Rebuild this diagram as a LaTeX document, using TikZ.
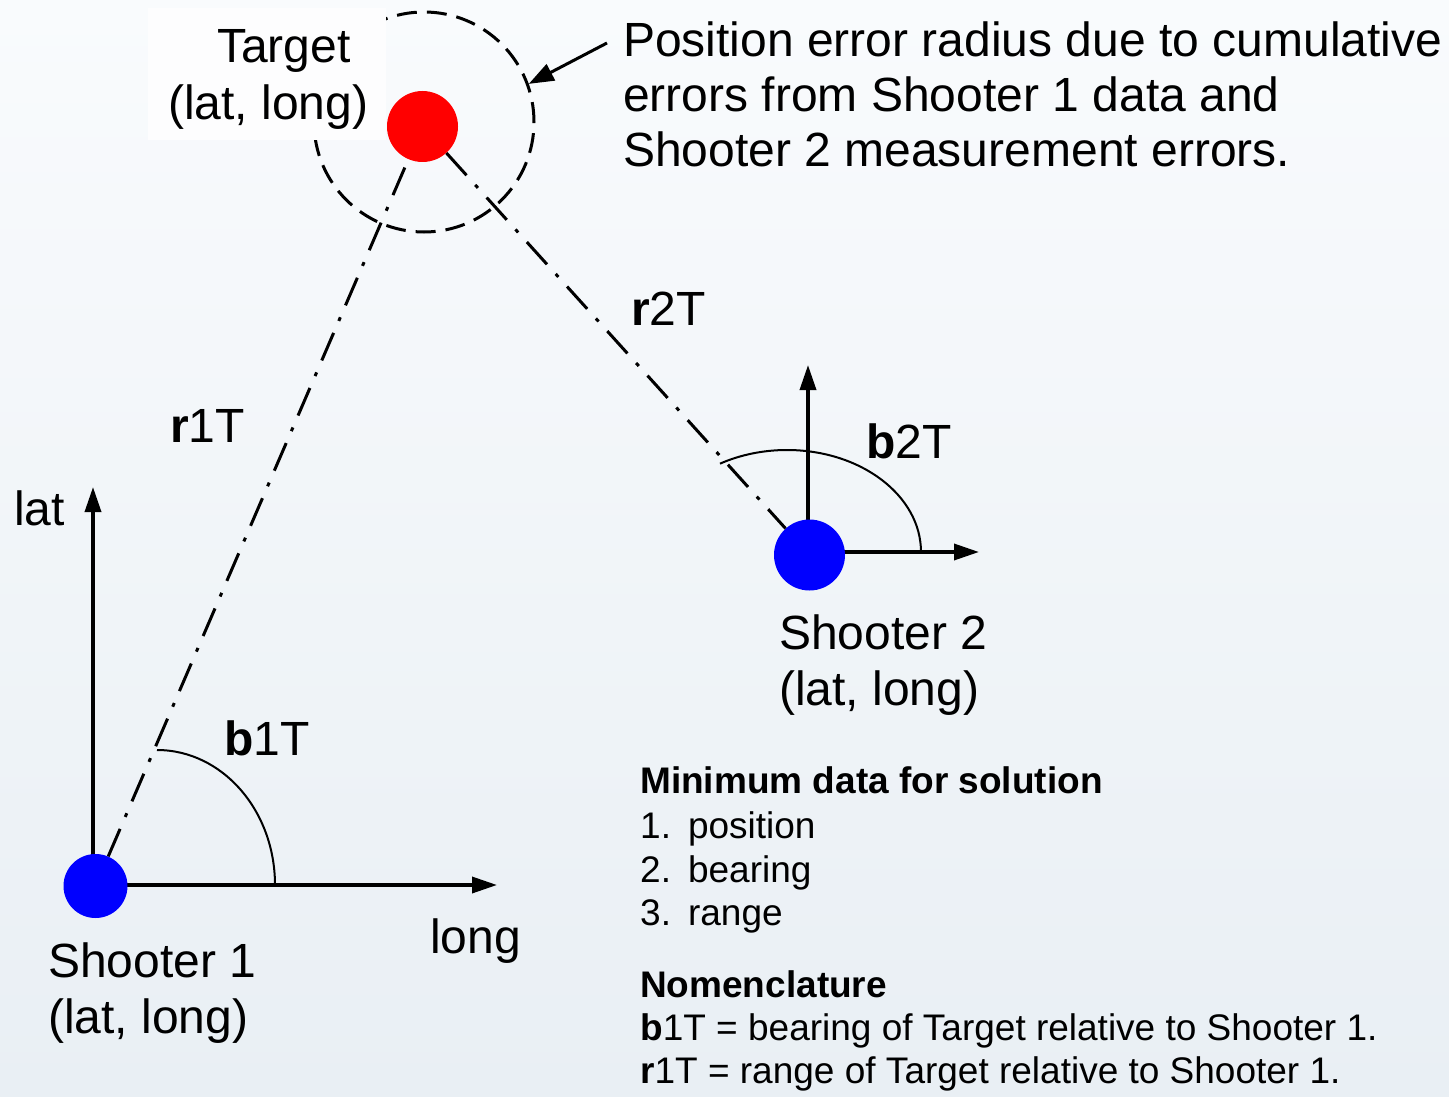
\documentclass[tikz,border=0pt]{standalone}
\usepackage{fontspec}
\setmainfont{Liberation Sans}
\usetikzlibrary{arrows.meta}
\definecolor{bgtop}{RGB}{249,251,253}
\definecolor{bgbot}{RGB}{233,239,244}
\definecolor{dotblue}{RGB}{0,0,255}
\definecolor{dotred}{RGB}{255,0,0}
\newcommand\bigf{\fontsize{48}{56}\selectfont}
\newcommand\smallf{\fontsize{37}{44}\selectfont}
\begin{document}
\begin{tikzpicture}[x=1pt,y=-1pt,
  dot/.style={circle,inner sep=0pt,minimum size=#1},
  txt/.style={anchor=base west,inner sep=0pt,font=\bigf},
  sm/.style={anchor=base west,inner sep=0pt,font=\smallf},
  axis/.style={line width=3.5pt,-{Triangle[length=25pt,width=16pt]}},
  pointer/.style={line width=3pt,-{Triangle[length=25pt,width=18pt]}},
  sight/.style={line width=3pt,dash pattern=on 30pt off 13pt on 4pt off 13pt},
  anglearc/.style={line width=2pt},
  errcircle/.style={circle,draw,line width=3pt,dash pattern=on 20pt off 10pt,minimum size=220pt,inner sep=0pt}
]
\useasboundingbox (0,0) rectangle (1449,1097);
\shade[top color=bgtop,bottom color=bgbot] (0,0) rectangle (1449,1097);

% error circle and target label box
\node[errcircle] (err) at (424,122) {};
\fill[white!60!bgtop] (148,8) rectangle (386,140);
\node[txt] (tgt1) at (217,63) {Target};
\node[txt] (tgt2) at (168,120) {(lat, long)};

% note
\node[txt] (n1) at (623,57) {Position error radius due to cumulative};
\node[txt] (n2) at (623,112) {errors from Shooter 1 data and};
\node[txt] (n3) at (623,167) {Shooter 2 measurement errors.};
\coordinate (arrowstart) at (607,43);
\draw[pointer] (arrowstart) -- (err.20);

% shooter 1 axes
\coordinate (o1) at (93,885);
\coordinate (lat1) at (93,487);
\coordinate (long1) at (497,885);
\draw[axis] (o1) -- (lat1);
\draw[axis] (o1) -- (long1);
\draw[anglearc] (275,885) arc[start angle=0,end angle=90,x radius=118pt,y radius=135pt];

% shooter 2 axes
\coordinate (o2) at (808,552);
\coordinate (lat2) at (808,365);
\coordinate (long2) at (979,552);
\draw[axis] (o2) -- (lat2);
\draw[axis] (o2) -- (long2);
\draw[anglearc] (921,552) arc[start angle=0,end angle=120,x radius=134pt,y radius=102pt];

% dots
\node[dot=64pt,fill=dotblue] (s1) at (95.5,886) {};
\node[dot=71pt,fill=dotblue] (s2) at (809.5,555) {};
\node[dot=71pt,fill=dotred] (tg) at (422.5,126.5) {};

% sight lines
\draw[sight] (s1) -- (tg);
\draw[sight] (tg) -- (s2);

% labels
\node[txt] (latlab) at (14,525) {lat};
\node[txt] (longlab) at (430,953) {long};
\node[txt] (r1lab) at (170,442) {\textbf{r}1T};
\node[txt] (r2lab) at (631,325) {\textbf{r}2T};
\node[txt] (b1lab) at (224,755) {\textbf{b}1T};
\node[txt] (b2lab) at (866,458) {\textbf{b}2T};
\node[txt] (s1a) at (48,977) {Shooter 1};
\node[txt] (s1b) at (48,1033) {(lat, long)};
\node[txt] (s2a) at (779,649) {Shooter 2};
\node[txt] (s2b) at (779,705) {(lat, long)};

% bottom text
\node[sm] (m0) at (640,793) {\textbf{Minimum data for solution}};
\node[sm] (m1) at (640,838) {1.\hspace{17pt}position};
\node[sm] (m2) at (640,882) {2.\hspace{17pt}bearing};
\node[sm] (m3) at (640,925) {3.\hspace{17pt}range};
\node[sm] (nm0) at (640,997) {\textbf{Nomenclature}};
\node[sm] (nm1) at (640,1040) {\textbf{b}1T = bearing of Target relative to Shooter 1.};
\node[sm] (nm2) at (640,1083) {\textbf{r}1T = range of Target relative to Shooter 1.};
\end{tikzpicture}
\end{document}
